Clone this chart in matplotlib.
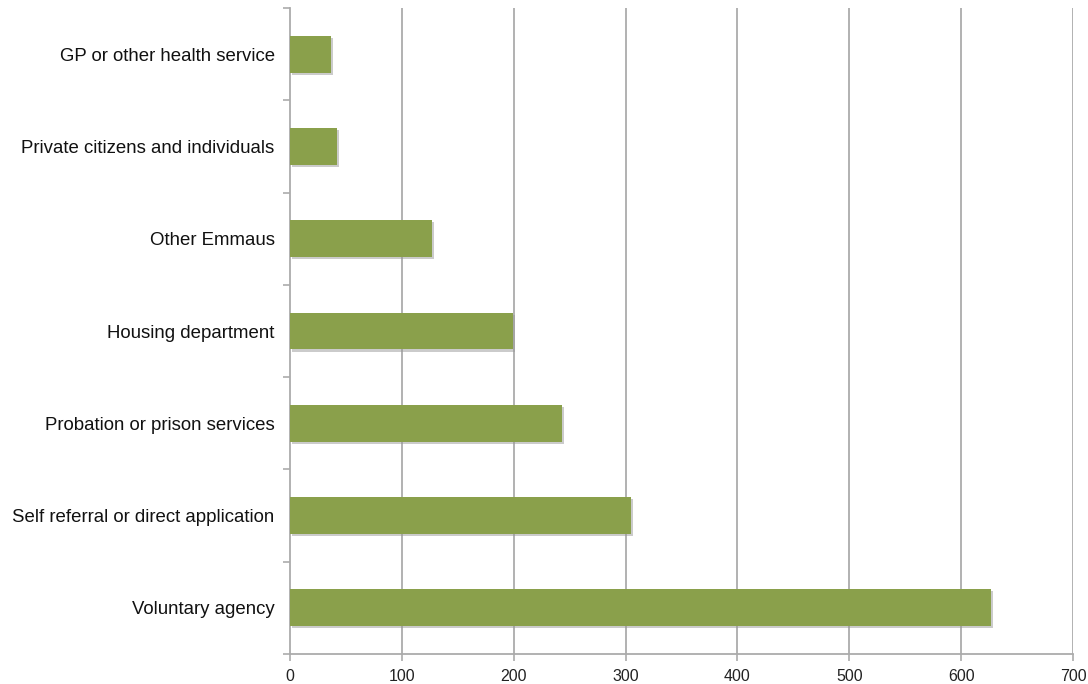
import matplotlib.pyplot as plt
import matplotlib.patheffects as pe
import matplotlib.transforms as mtransforms

plt.rcParams['font.family'] = ['Liberation Sans', 'DejaVu Sans']

sources = ["Voluntary agency", "Self referral or direct application",
           "Probation or prison services", "Housing department",
           "Other Emmaus", "Private citizens and individuals",
           "GP or other health service"]
referrals = [627, 305, 243, 199, 127, 42, 37]
xticks = [0, 100, 200, 300, 400, 500, 600, 700]

fig = plt.figure(figsize=(10.88, 6.84), dpi=100)
ax = fig.add_axes([290 / 1088, 1 - 654 / 684, (1073 - 290) / 1088, (654 - 8) / 684])

grid_col = "#ababab"
for x in xticks[1:]:
    ax.axvline(x, color=grid_col, lw=1.3, zorder=1)

bars = ax.barh(range(len(sources)), referrals, height=0.4, color="#8aa04b", zorder=3)
for b in bars:
    b.set_path_effects([pe.SimplePatchShadow(offset=(1.5, -1.5), shadow_rgbFace="#999999", alpha=0.5),
                        pe.Normal()])

ax.set_xlim(0, 700)
ax.set_ylim(-0.5, len(sources) - 0.5)
ax.set_xticks(xticks)
ax.set_xticklabels([str(x) for x in xticks], fontsize=11.5, color="#222222")
ax.set_yticks(range(len(sources)))
ax.set_yticklabels(sources, fontsize=13.4, color="#111111", va="center_baseline")
ax.set_yticks([i - 0.5 for i in range(len(sources) + 1)], minor=True)

# nudge the category labels down a little, as in the original
shift = mtransforms.ScaledTranslation(0, -2.5 / 100, fig.dpi_scale_trans)
for lbl in ax.get_yticklabels():
    lbl.set_transform(lbl.get_transform() + shift)

for s in ["top", "right"]:
    ax.spines[s].set_visible(False)
for s in ["left", "bottom"]:
    ax.spines[s].set_color(grid_col)
    ax.spines[s].set_linewidth(1.3)

ax.tick_params(axis="y", which="major", length=0, pad=11)
ax.tick_params(axis="y", which="minor", length=5, color=grid_col, width=1.2)
ax.tick_params(axis="x", length=5, color=grid_col, width=1.2, pad=6)

fig.savefig("out.png", dpi=100)
